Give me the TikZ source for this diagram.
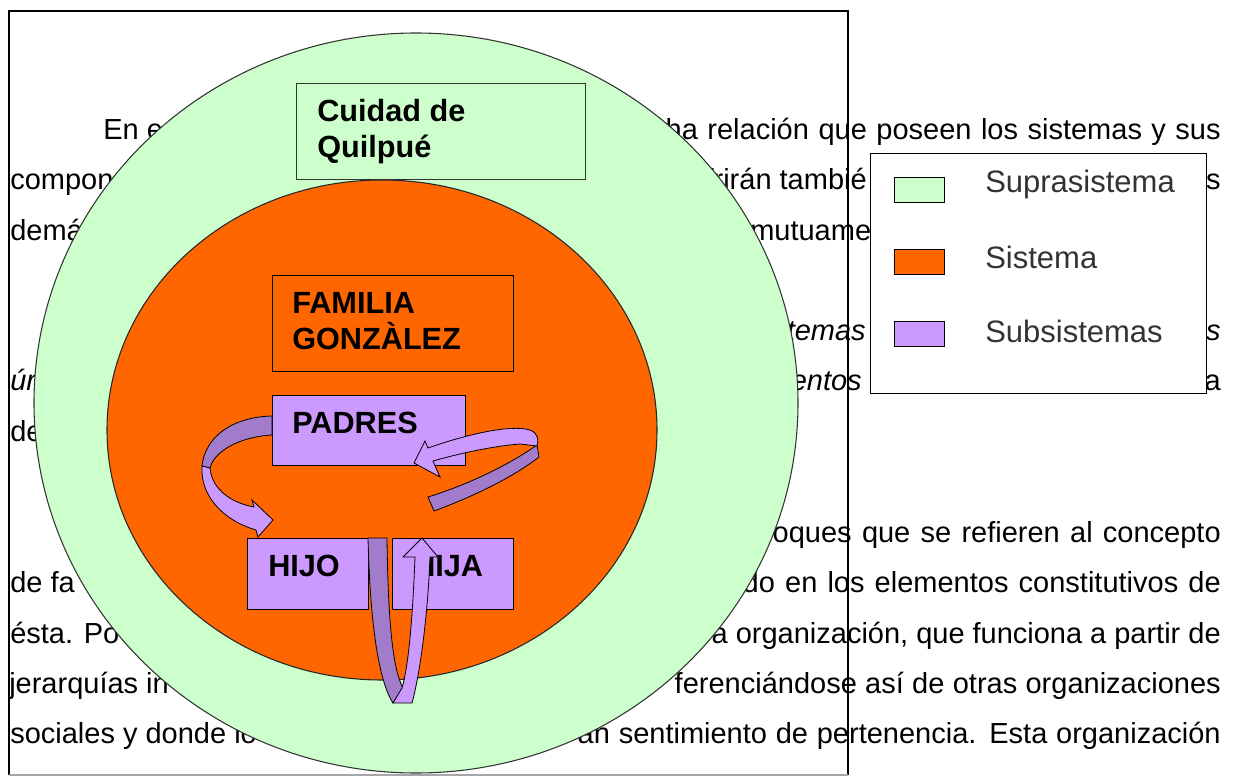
\documentclass[tikz,border=0pt]{standalone}
\usepackage{fontspec}
\setmainfont{Liberation Sans}
\definecolor{verde}{HTML}{CCFFCC}
\definecolor{naranja}{HTML}{FF6600}
\definecolor{lila}{HTML}{CC99FF}
\definecolor{lilaosc}{HTML}{A27CCB}
\definecolor{gristexto}{HTML}{333333}
\begin{document}
\begin{tikzpicture}[x=0.75pt,y=-0.75pt]
    \tikzstyle{fondo}=[inner sep=0pt, font=\fontsize{21.75}{26}\selectfont]
    \tikzstyle{caja}=[draw=black, line width=1.1pt, inner sep=0pt, anchor=north west]
    \tikzstyle{rotulo}=[inner sep=0pt, anchor=north west, align=left, font=\fontsize{23}{27}\selectfont\bfseries]
    \tikzstyle{cinta}=[draw=black, line width=0.6pt, fill=lila]
    \tikzstyle{dorso}=[cinta, fill=lilaosc]
    \tikzstyle{muestra}=[caja, minimum width=37.5pt, minimum height=18.75pt]
    \tikzstyle{leyenda}=[inner sep=0pt, anchor=base west, text=gristexto, font=\fontsize{23.25}{28}\selectfont]

\useasboundingbox (0,0) rectangle (1233,777);

% Texto de fondo
\node[fondo,anchor=base west] (T-1) at (103,140) {En e};
\node[fondo,anchor=base east] (T-2) at (1221,140) {\makebox[416.25pt][s]{ha relación que poseen los sistemas y sus}};
\node[fondo,anchor=base west] (T-3) at (10,190) {compon};
\node[fondo,anchor=base east] (T-4) at (867,190) {frirán tambié};
\node[fondo,anchor=base east] (T-5) at (1221,190) {s};
\node[fondo,anchor=base west] (T-6) at (10,241) {demá};
\node[fondo,anchor=base west] (T-7) at (750,241) {mutuamen};
\node[fondo,anchor=base east] (T-8) at (866,341) {\itshape temas};
\node[fondo,anchor=base east] (T-9) at (1221,341) {\itshape s};
\node[fondo,anchor=base west] (T-10) at (10,391) {\itshape úr};
\node[fondo,anchor=base east] (T-11) at (862,391) {\itshape entos};
\node[fondo,anchor=base east] (T-12) at (1221,391) {a};
\node[fondo,anchor=base west] (T-13) at (10,442) {de};
\node[fondo,anchor=base east] (T-14) at (1221,542) {\makebox[336pt][s]{oques que se refieren al concepto}};
\node[fondo,anchor=base west] (T-15) at (10,592) {de fa};
\node[fondo,anchor=base east] (T-16) at (1221,592) {\makebox[358.5pt][s]{do en los elementos constitutivos de}};
\node[fondo,anchor=base west] (T-17) at (10,643) {ésta. Po};
\node[fondo,anchor=base east] (T-18) at (1221,643) {\makebox[381.75pt][s]{a organización, que funciona a partir de}};
\node[fondo,anchor=base west] (T-19) at (9,693) {jerarquías in};
\node[fondo,anchor=base east] (T-20) at (1221,693) {\makebox[409.5pt][s]{ferenciándose así de otras organizaciones}};
\node[fondo,anchor=base west] (T-21) at (10,743) {sociales y donde lo};
\node[fondo,anchor=base east] (T-22) at (1221,743) {\makebox[482.25pt][s]{an sentimiento de pertenencia. Esta organización}};

% Marco
\draw[line width=1pt] (848,775) -- (848,11) -- (9,11) -- (9,775);
\draw[line width=1pt, black!35] (9,775) -- (848,775);

% Suprasistema y sistema
\draw[fill=verde, draw=black!80, line width=0.8pt] (416,403) ellipse [x radius=382, y radius=370];
\draw[fill=naranja, draw=black!85, line width=0.8pt] (382,430) ellipse [x radius=275, y radius=250];

% Cajas
\node[caja, fill=verde, draw=black!80, minimum width=216.75pt, minimum height=72pt] (C) at (296,83) {};
\node[rotulo] (C-t) at (317,99) {Cuidad de\\Quilpué};
\node[caja, fill=naranja, minimum width=180.75pt, minimum height=72pt] (F) at (272,275) {};
\node[rotulo] (F-t) at (292,292) {FAMILIA\\GONZÀLEZ};
\node[caja, fill=lila, minimum width=144.75pt, minimum height=52.5pt] (P) at (272,395) {};
\node[rotulo] (P-t) at (292,412) {PADRES};
\node[caja, fill=lila, minimum width=90.75pt, minimum height=53.25pt] (H-1) at (247,538) {};
\node[rotulo] (H-1t) at (268,555) {HIJO};
\node[caja, fill=lila, minimum width=90.75pt, minimum height=53.25pt] (H-2) at (392,538) {};
\node[rotulo] (H-2t) at (413,555) {HIJA};

% Flechas curvas
% padres -> hijo
\filldraw[dorso] (272,416) .. controls (232,417) and (205,437) .. (202,466)
  -- (210,468) .. controls (214,452) and (238,437) .. (272,435) -- cycle;
\filldraw[cinta] (202,466) .. controls (200,495) and (222,520) .. (256,530)
  -- (258,537) -- (273,520) -- (252,500) -- (254,507)
  .. controls (232,503) and (212,490) .. (210,468) -- cycle;
% hacia padres
\filldraw[dorso] (537,445) .. controls (510,464) and (470,484) .. (428,497)
  -- (434,511) .. controls (472,497) and (512,478) .. (539,457) -- cycle;
\filldraw[cinta] (428,448) .. controls (465,435) and (510,424) .. (530,430)
  .. controls (538,433) and (539,440) .. (537,446)
  -- (520,444) .. controls (495,446) and (465,452) .. (433,461)
  -- (440,477) -- (414,463) -- (425,441) -- cycle;
% hijo -> hija
\filldraw[dorso] (368,538) -- (387,538) .. controls (388,615) and (392,668) .. (403,688)
  -- (393,703) .. controls (378,680) and (370,620) .. (368,538) -- cycle;
\filldraw[cinta] (393,703) -- (412,703) .. controls (421,670) and (428,610) .. (430,557)
  -- (438,557) -- (422,538) -- (403,557) -- (415,557)
  .. controls (413,610) and (409,665) .. (402,688) -- cycle;

% Leyenda
\node[caja, fill=white, line width=0.8pt, minimum width=252pt, minimum height=180pt] (L) at (870,153) {};
\node[muestra, fill=verde] (S-1) at (894,177) {};
\node[muestra, fill=naranja] (S-2) at (894,249) {};
\node[muestra, fill=lila] (S-3) at (894,321) {};
\node[leyenda] (L-1) at (985,193) {Suprasistema};
\node[leyenda] (L-2) at (985,269) {Sistema};
\node[leyenda] (L-3) at (985,343) {Subsistemas};

\end{tikzpicture}
\end{document}
